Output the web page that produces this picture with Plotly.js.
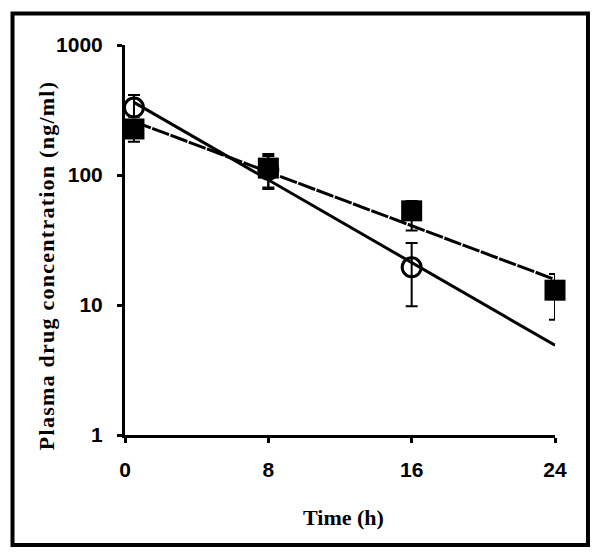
<!DOCTYPE html>
<html>
<head>
<meta charset="utf-8">
<script src="https://cdn.plot.ly/plotly-3.0.1.min.js"></script>
<style>
  html, body { margin: 0; padding: 0; background: #fff; }
  #chart { width: 602px; height: 556px; }
  .ytitle-ann text { letter-spacing: 1.25px; }
</style>
</head>
<body>
<div id="chart"></div>
<script>
// Sampling times (h)
const circleTimes = [0.5, 8, 16];
const circleValues = [330, 110, 19.5];
const circleErrPlus = [82, 30, 10.5];
const circleErrMinus = [50, 30, 9.7];

const squareTimes = [0.5, 8, 16, 24];
const squareValues = [226, 113, 53, 13];
const squareErrPlus = [30, 32, 10, 4.3];
const squareErrMinus = [46, 35, 15.6, 5.3];

// Fitted trend lines (start and end values)
const fitTimes = [0.5, 24];
const circleFit = [362, 4.9];
const squareFit = [258, 15.7];

const xTicks = [0, 8, 16, 24];
const yTicks = [1, 10, 100, 1000];
const yTickText = ['1', '10', '100', '1000'];

const xTitle = 'Time (h)';
const yTitle = 'Plasma drug concentration (ng/ml)';

const traces = [
  {
    x: fitTimes, y: circleFit, mode: 'lines', type: 'scatter', cliponaxis: false,
    line: { color: '#000', width: 3 }, hoverinfo: 'skip', showlegend: false
  },
  {
    x: fitTimes, y: squareFit, mode: 'lines', type: 'scatter', cliponaxis: false,
    line: { color: '#000', width: 3, dash: '18px,1.5px' }, hoverinfo: 'skip', showlegend: false
  },
  {
    x: circleTimes, y: circleValues, mode: 'markers', type: 'scatter', cliponaxis: false,
    marker: { symbol: 'circle-open', size: 19, color: '#000', line: { color: '#000', width: 3 } },
    error_y: { type: 'data', symmetric: false, array: circleErrPlus, arrayminus: circleErrMinus,
               color: '#000', thickness: 2, width: 6 },
    showlegend: false
  },
  {
    x: squareTimes, y: squareValues, mode: 'markers', type: 'scatter', cliponaxis: false,
    marker: { symbol: 'square', size: 21, color: '#000', line: { width: 0 } },
    error_y: { type: 'data', symmetric: false, array: squareErrPlus, arrayminus: squareErrMinus,
               color: '#000', thickness: 2, width: 6 },
    showlegend: false
  }
];

const titleFont = { family: 'Liberation Serif, Times New Roman, serif', size: 22, color: '#000', weight: 'bold' };

const layout = {
  width: 602, height: 556,
  margin: { l: 125, r: 47, t: 45, b: 121 },
  paper_bgcolor: '#fff', plot_bgcolor: '#fff',
  showlegend: false,
  xaxis: {
    range: [0, 24], tickvals: xTicks, ticktext: xTicks.map(String),
    showline: true, linecolor: '#000', linewidth: 3, mirror: false,
    ticks: 'outside', ticklen: 5, tickwidth: 3, tickcolor: '#000',
    showgrid: false, zeroline: false, ticklabelstandoff: 9,
    tickfont: { family: 'Liberation Sans, Arial, sans-serif', size: 21, color: '#000', weight: 'bold' }
  },
  yaxis: {
    type: 'log', range: [0, 3], tickvals: yTicks, ticktext: yTickText,
    showline: true, linecolor: '#000', linewidth: 3, mirror: false,
    ticks: 'outside', ticklen: 5, tickwidth: 3, tickcolor: '#000',
    showgrid: false, zeroline: false, ticklabelstandoff: 10,
    tickfont: { family: 'Liberation Sans, Arial, sans-serif', size: 21, color: '#000', weight: 'bold' }
  },
  annotations: [
    { text: xTitle, xref: 'paper', yref: 'paper', x: 0.507, y: -0.2103,
      xanchor: 'center', yanchor: 'middle', showarrow: false, font: titleFont },
    { text: yTitle, xref: 'paper', yref: 'paper', x: -0.1814, y: 0.4346, textangle: -90,
      xanchor: 'center', yanchor: 'middle', showarrow: false, font: titleFont }
  ],
  shapes: [
    { type: 'rect', xref: 'paper', yref: 'paper',
      x0: -0.2616, x1: 1.0767, y0: -0.282, y1: 1.0808,
      line: { color: '#000', width: 4 }, fillcolor: 'rgba(0,0,0,0)', layer: 'below' }
  ]
};

Plotly.newPlot('chart', traces, layout, { staticPlot: true, displayModeBar: false }).then(function () {
  const anns = document.querySelectorAll('.annotation');
  if (anns.length > 1) anns[1].classList.add('ytitle-ann');
});
</script>
</body>
</html>
